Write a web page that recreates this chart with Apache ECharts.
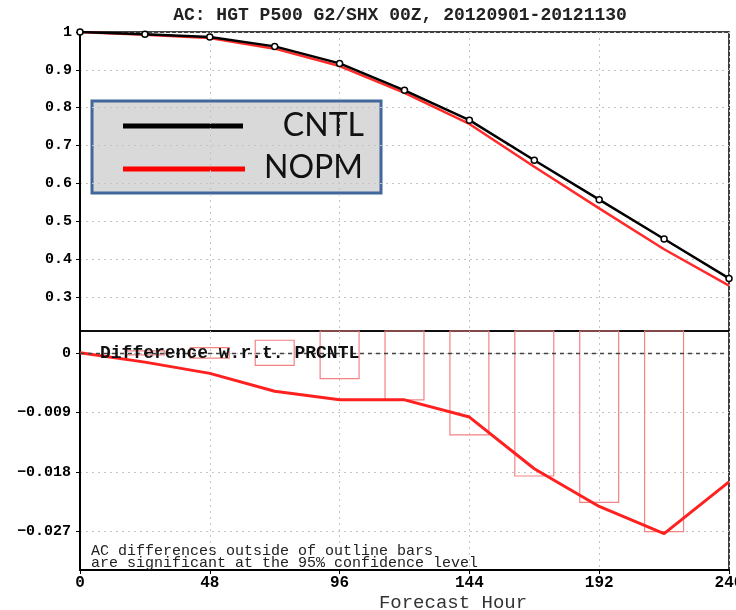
<!DOCTYPE html>
<html><head><meta charset="utf-8">
<script src="https://cdn.jsdelivr.net/npm/echarts@6/dist/echarts.min.js"></script>
<style>html,body{margin:0;padding:0;background:#fff}#c{width:736px;height:610px}</style>
</head><body><div id="c"></div>
<script>
// ---- data ----
const hours = [0, 24, 48, 72, 96, 120, 144, 168, 192, 216, 240];
const cntl = [1.0, 0.994, 0.987, 0.962, 0.917, 0.846, 0.767, 0.661, 0.557, 0.453, 0.349];
const nopm = [1.0, 0.993, 0.984, 0.956, 0.910, 0.839, 0.757, 0.644, 0.534, 0.426, 0.330];
const diff = [0, -0.0014, -0.0031, -0.0058, -0.0071, -0.0071, -0.0097, -0.0175, -0.0232, -0.0273, -0.0195];
const barHours = [24, 48, 72, 96, 120, 144, 168, 192, 216];
const barHalfRange = [0.0003, 0.0008, 0.0019, 0.0039, 0.0071, 0.0124, 0.0186, 0.0226, 0.0270];
const upperTicks = [0.3, 0.4, 0.5, 0.6, 0.7, 0.8, 0.9, 1];
const lowerTicks = [-0.027, -0.018, -0.009, 0];
const titleText = 'AC: HGT P500 G2/SHX 00Z, 20120901-20121130';
const diffLabel = 'Difference w.r.t. PRCNTL';
const noteLines = ['AC differences outside of outline bars', 'are significant at the 95% confidence level'];
const xName = 'Forecast Hour';
const legendNames = ['CNTL', 'NOPM'];

// ---- chart ----
const chart = echarts.init(document.getElementById('c'));
const mono = '"Liberation Mono", "DejaVu Sans Mono", monospace';
const pair = (xs, ys) => xs.map((x, i) => [x, ys[i]]);
const gridLine = { show: true, lineStyle: { color: '#c4c4c4', type: [2, 4], width: 1 } };

const option = {
  animation: false,
  backgroundColor: '#fff',
  grid: [
    { left: 80, right: 7, top: 32, height: 299, show: true, borderColor: '#000', borderWidth: 1.5,
      backgroundColor: 'transparent', outerBoundsMode: 'none', containLabel: false },
    { left: 80, right: 7, top: 331, height: 239, show: true, borderColor: '#000', borderWidth: 1.5,
      backgroundColor: 'transparent', outerBoundsMode: 'none', containLabel: false }
  ],
  xAxis: [
    { gridIndex: 0, type: 'value', min: 0, max: 240, interval: 48,
      axisLine: { show: false, onZero: false }, axisTick: { show: false }, axisLabel: { show: false },
      splitLine: gridLine },
    { gridIndex: 1, type: 'value', min: 0, max: 240, interval: 48,
      axisLine: { show: true, onZero: false, lineStyle: { color: '#000', width: 2 } },
      axisTick: { show: true, length: 4, lineStyle: { color: '#000' } },
      axisLabel: { color: '#000', fontFamily: mono, fontWeight: 'bold', fontSize: 16, margin: 5,
        showMinLabel: true, showMaxLabel: true },
      splitLine: gridLine }
  ],
  yAxis: [
    { gridIndex: 0, type: 'value', min: 0.21, max: 1,
      axisLine: { show: true, onZero: false, lineStyle: { color: '#000', width: 2 } },
      axisTick: { show: true, length: 4, customValues: upperTicks, lineStyle: { color: '#000' } },
      axisLabel: { customValues: upperTicks, color: '#000', fontFamily: mono, fontWeight: 'bold', fontSize: 15, margin: 8,
        formatter: v => (Math.abs(v - 1) < 1e-9 ? '1' : v.toFixed(1)) },
      splitLine: gridLine },
    { gridIndex: 1, type: 'value', min: -0.0328, max: 0.0033,
      axisLine: { show: true, onZero: false, lineStyle: { color: '#000', width: 2 } },
      axisTick: { show: true, length: 4, customValues: lowerTicks, lineStyle: { color: '#000' } },
      axisLabel: { customValues: lowerTicks, color: '#000', fontFamily: mono, fontWeight: 'bold', fontSize: 15, margin: 9,
        formatter: v => (Math.abs(v) < 1e-12 ? '0' : ('\u2212' + Math.abs(v).toFixed(3))) },
      splitLine: gridLine }
  ],
  series: [
    { name: legendNames[0], type: 'line', xAxisIndex: 0, yAxisIndex: 0, data: pair(hours, cntl),
      symbol: 'circle', symbolSize: 6, showSymbol: true,
      lineStyle: { color: '#000', width: 2.5 },
      itemStyle: { color: '#fff', borderColor: '#000', borderWidth: 1.5 }, z: 5 },
    { name: legendNames[1], type: 'line', xAxisIndex: 0, yAxisIndex: 0, data: pair(hours, nopm),
      symbol: 'none', lineStyle: { color: '#ff2a2a', width: 2.5 }, z: 4 },
    { type: 'custom', xAxisIndex: 1, yAxisIndex: 1,
      data: barHours.map((h, i) => [h, -barHalfRange[i], barHalfRange[i]]),
      renderItem: function (params, api) {
        const h = api.value(0), lo = api.value(1), hi = api.value(2);
        const p1 = api.coord([h - 7.2, hi]);
        const p2 = api.coord([h + 7.2, lo]);
        const cs = params.coordSys;
        const shape = echarts.graphic.clipRectByRect(
          { x: p1[0], y: p1[1], width: p2[0] - p1[0], height: p2[1] - p1[1] },
          { x: cs.x, y: cs.y, width: cs.width, height: cs.height });
        return shape && { type: 'rect', shape: shape,
          style: { fill: 'none', stroke: '#f38383', lineWidth: 1.2 } };
      }, z: 2 },
    { type: 'line', xAxisIndex: 1, yAxisIndex: 1, data: pair(hours, diff),
      symbol: 'none', lineStyle: { color: '#ff2020', width: 3 }, z: 4,
      markLine: { silent: true, symbol: 'none', label: { show: false },
        lineStyle: { color: '#444', type: [4, 4], width: 1.3 },
        data: [{ yAxis: 0 }] } }
  ],
  graphic: [
    { type: 'text', z: 10,
      style: { text: titleText, x: 400, y: 15, align: 'center', verticalAlign: 'middle',
        font: 'bold 18px ' + mono, fill: '#222' } },
    { type: 'group', z: 20, children: [
      { type: 'rect', shape: { x: 92, y: 101, width: 289, height: 92 },
        style: { fill: '#d9d9d9', stroke: '#41679b', lineWidth: 3 } },
      { type: 'line', shape: { x1: 123, y1: 126, x2: 243, y2: 126 },
        style: { stroke: '#000', lineWidth: 5 } },
      { type: 'line', shape: { x1: 123, y1: 169, x2: 245, y2: 169 },
        style: { stroke: '#ff0000', lineWidth: 5 } },
      { type: 'text', style: { text: legendNames[0], x: 364, y: 126, align: 'right', verticalAlign: 'middle',
        font: '32px Lato, "Liberation Sans", sans-serif', fill: '#111' } },
      { type: 'text', style: { text: legendNames[1], x: 363, y: 168, align: 'right', verticalAlign: 'middle',
        font: '32px Lato, "Liberation Sans", sans-serif', fill: '#111' } }
    ] },
    { type: 'text', z: 10,
      style: { text: diffLabel, x: 100, y: 353, align: 'left', verticalAlign: 'middle',
        font: 'bold 18px ' + mono, fill: '#111' } },
    { type: 'text', z: 10,
      style: { text: noteLines.join('\n'), x: 91, y: 545, align: 'left', verticalAlign: 'top',
        font: '15px ' + mono, lineHeight: 12, fill: '#222' } },
    { type: 'text', z: 10,
      style: { text: xName, x: 453, y: 603, align: 'center', verticalAlign: 'middle',
        font: '19px ' + mono, fill: '#333' } }
  ]
};
chart.setOption(option);
</script>
</body></html>
